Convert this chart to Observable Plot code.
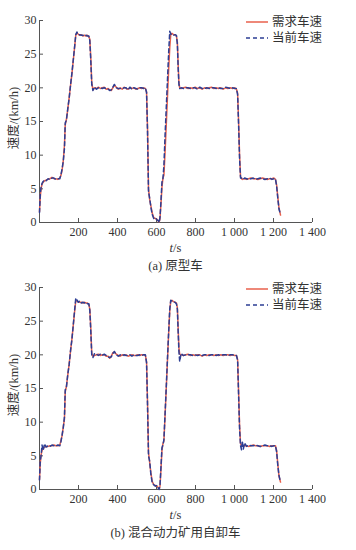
<!DOCTYPE html>
<html><head><meta charset="utf-8">
<script src="https://cdn.jsdelivr.net/npm/d3@7"></script>
<script src="https://cdn.jsdelivr.net/npm/@observablehq/plot@0.6"></script>
<style>
body{margin:0;background:#fff;}
#root{position:relative;width:356px;height:550px;font-family:"Liberation Serif","Times New Roman","Noto Sans CJK SC",serif;color:#333;}
.abs{position:absolute;}
.cap{position:absolute;left:39px;width:273px;text-align:center;font-size:12.5px;line-height:14px;}
.ylab{position:absolute;font-size:12.5px;white-space:nowrap;transform:translate(-50%,-50%) rotate(-90deg);}
.leg{position:absolute;left:245px;font-size:12.5px;line-height:14px;}
.leg div{display:flex;align-items:center;height:16px;}
.leg svg{margin-right:3px;}
</style></head>
<body><div id="root"></div>
<script>
const T = [0,4,8,13,19,26,34,44,54,64,74,84,94,104,
110,116,122,128,132,138,145,152,159,166,173,180,186,192,
198,206,214,222,230,238,246,253,
258,263,268,274,
282,292,302,312,322,332,342,352,360,368,376,384,394,404,414,424,434,444,454,464,474,484,494,504,514,524,534,543,
549,554,559,565,571,578,586,594,602,609,614,
618,623,628,633,638,644,650,656,662,668,673,
679,687,695,702,
707,711,715,719,
726,738,750,762,774,786,798,810,822,834,846,858,870,882,894,906,918,930,942,954,966,978,990,1001,1010,
1016,1021,1026,1031,
1036,1040,1045,1052,1062,1072,1084,1096,1108,1120,1132,1144,1156,1168,1180,1192,1202,1210,
1216,1222,1228,1236];

const demandA = [1.6,3.8,5.0,5.7,6.0,6.2,6.3,6.4,6.5,6.7,6.5,6.5,6.4,6.6,
7.0,7.8,9.2,11.5,14.5,15.3,16.8,18.5,20.3,22.0,24.0,26.0,27.8,28.2,
28.0,27.8,27.9,27.7,27.8,27.7,27.8,27.6,
27.2,24.5,20.8,19.7,
20.0,19.9,20.1,19.9,20.0,20.1,19.8,19.9,19.7,19.6,20.0,20.4,20.1,19.8,20.0,19.8,20.1,19.9,19.8,20.0,19.9,20.0,19.8,19.9,20.0,19.9,20.0,19.9,
19.4,14.0,5.0,3.4,2.5,1.4,0.7,0.6,0.5,0.2,0.1,
0.6,2.8,5.2,6.6,7.0,10.5,14.5,18.5,22.5,26.0,27.9,
28.1,27.9,27.9,27.7,
26.8,23.5,20.8,20.0,
19.9,20.0,20.1,19.9,20.0,19.9,20.1,19.9,20.0,19.8,20.0,19.9,20.0,20.1,19.9,20.0,19.9,20.0,19.8,20.0,19.9,20.0,19.9,20.0,19.8,
19.2,15.0,10.0,6.8,
6.5,6.4,6.5,6.5,6.4,6.5,6.6,6.5,6.5,6.4,6.5,6.6,6.5,6.4,6.5,6.5,6.6,6.4,
5.6,3.8,2.2,1.1];

const currentA = [1.5,4.2,5.2,5.8,6.1,6.3,6.2,6.5,6.4,6.6,6.6,6.4,6.5,6.5,
7.1,8.0,9.1,11.0,14.8,15.2,16.9,18.4,20.4,22.1,24.1,26.1,27.9,28.3,
27.9,27.9,27.8,27.8,27.7,27.8,27.7,27.7,
27.0,24.0,20.5,19.6,
20.1,19.8,20.0,20.0,19.9,20.0,19.9,19.8,19.6,19.7,20.1,20.5,20.0,19.9,19.9,19.9,20.0,20.0,19.7,20.1,19.8,20.0,19.9,19.8,20.0,20.0,19.9,20.0,
19.3,13.5,4.6,3.6,2.3,1.2,0.6,0.7,0.4,0.3,0.0,
0.8,3.2,6.0,6.5,8.5,13.0,17.0,21.0,25.0,28.4,28.0,
27.9,27.8,27.9,27.8,
26.5,23.0,20.5,19.9,
20.0,19.9,20.0,20.0,19.9,20.0,20.0,19.8,20.1,19.9,19.9,20.0,19.9,20.0,20.0,19.9,20.0,19.9,19.9,20.1,20.0,19.9,20.0,19.9,19.9,
19.0,14.5,9.5,6.6,
6.6,6.5,6.4,6.6,6.5,6.4,6.5,6.6,6.4,6.5,6.6,6.5,6.4,6.5,6.6,6.4,6.5,6.5,
5.4,3.6,2.0,1.2];

const demandB = [1.5,3.9,5.1,5.8,6.1,6.3,6.4,6.4,6.5,6.5,6.6,6.5,6.5,6.6,
7.3,8.0,9.3,10.5,14.5,15.3,17.0,18.6,20.5,22.3,24.3,26.4,28.0,28.0,
27.9,27.8,27.8,27.7,27.8,27.7,27.7,27.5,
26.8,24.0,20.2,19.8,
19.9,20.0,20.1,19.9,20.0,20.0,19.8,19.8,19.5,19.8,20.3,20.4,20.1,19.9,19.8,20.0,19.9,20.0,19.8,19.9,20.0,19.9,19.9,20.0,19.9,20.0,20.0,19.9,
19.0,13.0,5.5,4.0,2.5,1.2,0.7,0.6,0.5,0.3,0.1,
0.5,3.0,5.8,6.8,7.2,11.0,15.0,19.0,23.0,26.5,28.0,
28.1,27.9,27.8,27.7,
27.0,24.0,21.0,20.1,
20.0,19.9,20.0,20.1,19.9,20.0,19.9,20.0,20.0,19.8,20.0,19.9,20.0,20.0,19.9,20.0,19.9,20.0,19.9,20.0,20.0,19.9,20.0,19.9,19.9,
19.3,14.5,9.5,6.8,
6.5,6.5,6.4,6.5,6.5,6.4,6.5,6.6,6.5,6.5,6.4,6.5,6.5,6.5,6.4,6.5,6.5,6.5,
5.8,3.8,2.0,1.1];

const currentB = [1.4,4.3,5.0,6.6,5.8,6.8,6.3,6.5,6.4,6.6,6.5,6.5,6.6,6.5,
7.1,8.1,9.2,10.8,14.8,15.2,17.1,18.5,20.6,22.2,24.4,26.6,28.4,28.2,
27.8,28.0,27.7,27.8,27.7,27.8,27.6,27.6,
26.6,23.5,20.0,19.6,
20.2,20.1,19.9,20.1,19.9,20.1,19.9,19.7,19.6,19.7,20.2,20.5,20.0,19.8,20.0,19.9,20.0,19.9,19.9,20.0,19.8,20.0,19.9,19.9,20.0,19.9,20.0,20.0,
18.8,12.5,5.0,4.2,2.3,1.0,0.7,0.5,0.6,0.2,0.0,
0.7,3.4,6.2,6.6,7.4,11.3,15.2,19.3,23.2,26.8,28.1,
28.0,27.9,27.8,27.6,
26.8,23.5,20.5,19.0,
20.2,19.9,20.0,20.0,20.0,19.9,20.0,19.9,20.0,19.9,20.0,20.0,19.9,20.0,20.0,19.9,20.0,19.9,20.0,20.0,19.9,20.0,20.0,19.9,19.9,
19.2,14.0,9.0,6.5,
5.9,7.2,6.0,6.9,6.4,6.6,6.5,6.5,6.6,6.5,6.4,6.5,6.6,6.5,6.5,6.4,6.5,6.5,
5.6,3.6,2.1,1.1];

const xTicks = [200,400,600,800,1000,1200,1400];
const yTicks = [0,5,10,15,20,25,30];
const seriesNames = ["需求车速","当前车速"];
const yLabel = "速度/(km/h)";
const xLabel = "s";
const captions = ["(a) 原型车","(b) 混合动力矿用自卸车"];

const RED = "#e8604c", BLUE = "#2c3e94", AX = "#555";
const FONT = '"Liberation Serif","Times New Roman","Noto Sans CJK SC",serif';
const fmt = d => d >= 1000 ? String(d).replace(/(\d)(\d{3})$/, "$1 $2") : String(d);

function panel(demand, current) {
  const dRows = T.map((t,i)=>({t, v: demand[i]}));
  const cRows = T.map((t,i)=>({t, v: current[i]}));
  return Plot.plot({
    width: 356, height: 242,
    marginLeft: 39, marginRight: 44, marginTop: 20, marginBottom: 20,
    style: {fontFamily: FONT, fontSize: "12px", color: "#333", background: "transparent", overflow: "visible"},
    x: {domain: [0,1400]},
    y: {domain: [0,30]},
    marks: [
      Plot.axisX({ticks: xTicks, tickSize: -4, tickPadding: 9, tickFormat: fmt, label: null, stroke: AX}),
      Plot.axisY({ticks: yTicks, tickSize: -4, tickPadding: 7, label: null, stroke: AX}),
      Plot.ruleY([0], {stroke: AX}),
      Plot.ruleX([0], {stroke: AX}),
      Plot.line(dRows, {x: "t", y: "v", stroke: RED, strokeWidth: 1.5}),
      Plot.line(cRows, {x: "t", y: "v", stroke: BLUE, strokeWidth: 1.5, strokeDasharray: "4,3"})
    ]
  });
}

const root = document.getElementById("root");
function place(el, top) { el.classList.add("abs"); el.style.left = "0px"; el.style.top = top + "px"; root.appendChild(el); }

function legend(top) {
  const d = document.createElement("div");
  d.className = "leg"; d.style.top = top + "px";
  d.innerHTML =
    `<div><svg width="24" height="4"><line x1="1" x2="23" y1="2" y2="2" stroke="${RED}" stroke-width="1.5"/></svg>${seriesNames[0]}</div>` +
    `<div><svg width="24" height="4"><line x1="1" x2="23" y1="2" y2="2" stroke="${BLUE}" stroke-width="1.5" stroke-dasharray="4,3"/></svg>${seriesNames[1]}</div>`;
  root.appendChild(d);
}
function textAt(cls, html, top) {
  const d = document.createElement("div"); d.className = cls; d.innerHTML = html; d.style.top = top + "px"; root.appendChild(d); return d;
}
function ylab(cy) {
  const d = document.createElement("div"); d.className = "ylab"; d.textContent = yLabel;
  d.style.left = "12px"; d.style.top = cy + "px"; root.appendChild(d);
}

const offs = [0, 267];
const pairs = [[demandA, currentA],[demandB, currentB]];
pairs.forEach(([dm, cu], k) => {
  const o = offs[k];
  place(panel(dm, cu), o);
  legend(o + 14);
  ylab(o + 118);
  textAt("cap", `<i>t</i>/${xLabel}`, o + 241);
  textAt("cap", captions[k], o + 259);
});
</script></body></html>
